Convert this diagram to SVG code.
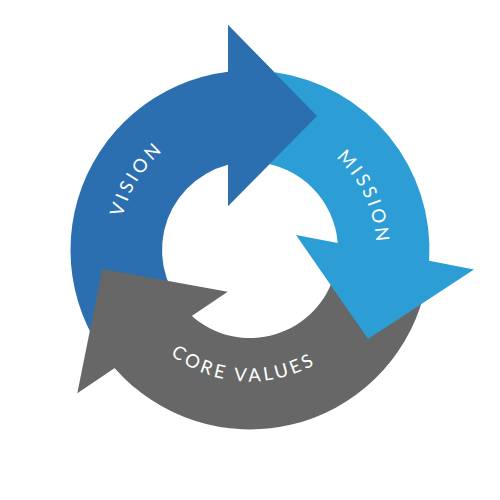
<svg xmlns="http://www.w3.org/2000/svg" xmlns:xlink="http://www.w3.org/1999/xlink" width="500" height="500" viewBox="0 0 500 500">
<style>
.vision{fill:#2C6FB0}
.mission{fill:#2C9ED5}
.core{fill:#666766}
.lbl{fill:#FFFFFF;font-family:Lato,"Open Sans","Liberation Sans",sans-serif;font-size:18.5px;letter-spacing:3.2px}
</style>
<defs>
<polygon id="vision-head" points="228,25 317,116 228,206"/>
<path id="p-vision" d="M 133.45 311.97 A 132 132 0 0 1 254.61 118.08"/>
<path id="p-mission" d="M 261.69 124.04 A 126.5 126.5 0 0 1 353.24 323.10"/>
<path id="p-core" d="M 132.52 309.08 A 131.5 131.5 0 0 0 359.91 322.19"/>
</defs>
<rect width="500" height="500" fill="#FFFFFF"/>
<g id="vision">
<path class="vision" d="M 134.62 387.51 A 179.5 179.5 0 0 1 228 71.85 L 228 25 L 317 116 L 228 206 L 228 164.8 A 88 88 0 0 0 193.43 317.41 Z"/>
</g>
<g id="core-values">
<path class="core" d="M 423.38 296.46 A 179.5 179.5 0 0 1 114.74 368.01 L 77.3 393.3 L 102.3 269 L 227.7 291.7 L 191.77 315.97 A 88 88 0 0 0 335.0 272.78 Z"/>
<text class="lbl"><textPath href="#p-core" startOffset="50%" text-anchor="middle">CORE VALUES</textPath></text>
</g>
<g id="mission">
<path class="mission" d="M 274.98 72.25 A 179.5 179.5 0 0 1 429.17 260.81 L 474 269.5 L 368 339 L 296 235 L 337.73 243.09 A 88 88 0 0 0 257.67 162.33 Z"/>
<text class="lbl"><textPath href="#p-mission" startOffset="50%" text-anchor="middle">MISSION</textPath></text>
</g>
<g id="vision-top">
<use href="#vision-head" class="vision"/>
<text class="lbl"><textPath href="#p-vision" startOffset="50%" text-anchor="middle">VISION</textPath></text>
</g>
</svg>
